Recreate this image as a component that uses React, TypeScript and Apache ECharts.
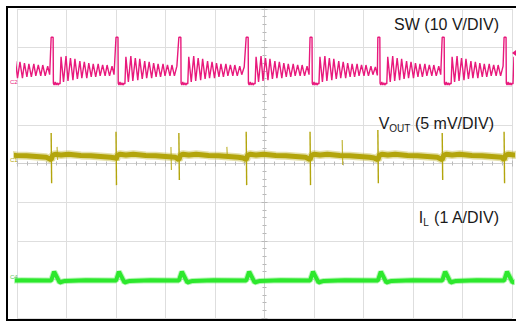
import React, { useEffect, useRef } from "react";
import * as echarts from "echarts";

// Screen units: divisions (10 horizontal x 8 vertical), centre = 0,0
// Switching events (SW pulse start) in divisions
const SW_EVENTS = [-5.61, -4.31, -3.0, -1.73, -0.37, 0.92, 2.29, 3.59, 4.84];

// One switching cycle of the SW node trace: [time offset, level]
const SW_CYCLE: [number, number][] = [
  [0.0, 3.27], [0.04, 3.27], [0.045, 2.08], [0.06, 2.03], [0.08, 2.11], [0.1, 2.03],
  [0.12, 2.09], [0.14, 2.03], [0.16, 2.08], [0.18, 2.06], [0.2, 2.76], [0.25, 2.11],
  [0.3, 2.78], [0.34, 2.14], [0.39, 2.73], [0.44, 2.16], [0.48, 2.71], [0.53, 2.19],
  [0.58, 2.65], [0.62, 2.21], [0.67, 2.63], [0.72, 2.21], [0.76, 2.6], [0.81, 2.24],
  [0.85, 2.58], [0.9, 2.24], [0.95, 2.58], [0.99, 2.27], [1.04, 2.55], [1.09, 2.27],
  [1.13, 2.55], [1.18, 2.27], [1.23, 2.52], [1.27, 2.3], [1.32, 2.5], [1.36, 2.28], [1.4, 2.48],
];

// VOUT ripple band over one cycle
const VOUT_CYCLE: [number, number][] = [
  [0.0, 0.1], [0.03, 0.21], [0.08, 0.24], [0.2, 0.22], [0.35, 0.24], [0.6, 0.21],
  [0.8, 0.2], [1.0, 0.18], [1.2, 0.16], [1.3, 0.14], [1.38, 0.13],
];
// VOUT switching spikes (one per real event)
const VOUT_SPIKE_TOP = [0.79, 0.82, 0.79, 0.82, 0.82, 0.87, 0.79, 0.82];
const VOUT_SPIKE_BOTTOM = [-0.51, -0.56, -0.43, -0.56, -0.56, -0.51, -0.43, -0.51];
// small secondary spikes
const VOUT_SMALL_X = [-4.19, -1.89, -0.76, 1.57];
const VOUT_SMALL_TOP = [0.43, 0.43, 0.43, 0.61];
const VOUT_SMALL_BOTTOM = [0.09, -0.17, 0.14, -0.04];

// Inductor current over one cycle
const IL_CYCLE: [number, number][] = [
  [0.0, -3.03], [0.06, -2.8], [0.17, -3.08], [0.28, -3.04], [0.7, -3.02], [1.38, -3.03],
];

const LABELS = {
  sw: "SW (10 V/DIV)",
  vout: "{v|V}{s|OUT}{v| (5 mV/DIV)}",
  il: "{v|I}{s|L}{v| (1 A/DIV)}",
};

const PINK = "#e8197c";
const OLIVE = "#b3a50c";
const GREEN = "#2de82d";

function buildTrace(events: number[], cycle: [number, number][]) {
  const pts: [number, number][] = [];
  events.forEach((t0, i) => {
    const tNext = i + 1 < events.length ? events[i + 1] : Infinity;
    cycle.forEach(([dt, v]) => {
      if (t0 + dt < tNext - 0.005) pts.push([t0 + dt, v]);
    });
  });
  return pts;
}

export default function App() {
  const ref = useRef<HTMLDivElement>(null);
  useEffect(() => {
    if (!ref.current) return;
    const chart = echarts.init(ref.current, null, { renderer: "svg" });
    const realEvents = SW_EVENTS.slice(1);
    const spikes = realEvents.map((t, i) => ({
      coords: [[t, VOUT_SPIKE_TOP[i]], [t + 0.01, VOUT_SPIKE_BOTTOM[i]]],
    }));
    const smallSpikes = VOUT_SMALL_X.map((t, i) => ({
      coords: [[t, VOUT_SMALL_TOP[i]], [t + 0.01, VOUT_SMALL_BOTTOM[i]]],
    }));
    const voutData = buildTrace(SW_EVENTS, VOUT_CYCLE);
    const ilData = buildTrace(SW_EVENTS, IL_CYCLE);
    const gridColor = "#dedede";
    const tickColor = "#b8b8b8";
    const xBase = {
      type: "value" as const,
      min: -5,
      max: 5,
      interval: 1,
      axisLabel: { show: false },
      axisLine: { show: true, onZero: true, lineStyle: { color: "#cfcfcf", width: 1 } },
      axisTick: { show: true, inside: true, length: 3, lineStyle: { color: tickColor } },
      minorTick: { show: true, splitNumber: 5, length: 2, lineStyle: { color: tickColor } },
    };
    const yBase = {
      type: "value" as const,
      min: -4,
      max: 4,
      interval: 1,
      axisLabel: { show: false },
      axisLine: { show: true, onZero: true, lineStyle: { color: "#cfcfcf", width: 1 } },
      axisTick: { show: true, inside: true, length: 3, lineStyle: { color: tickColor } },
      minorTick: { show: true, splitNumber: 5, length: 2, lineStyle: { color: tickColor } },
    };
    const font = "'Liberation Sans', Arial, sans-serif";
    const rich = {
      v: { fontSize: 16, fontFamily: font, fill: "#1a1a1a", lineHeight: 20 },
      s: { fontSize: 10, fontFamily: font, fill: "#1a1a1a", lineHeight: 20, verticalAlign: "bottom" },
    };
    const lineBase = { type: "line", showSymbol: false, symbol: "none", clip: true, silent: true };
    chart.setOption({
      animation: false,
      backgroundColor: "#ffffff",
      grid: { left: 17, top: 9, width: 495, height: 309 },
      xAxis: [
        { ...xBase, position: "bottom", splitLine: { show: true, lineStyle: { color: gridColor, width: 1 } } },
        { ...xBase, position: "top", splitLine: { show: false } },
      ],
      yAxis: [
        { ...yBase, position: "left", splitLine: { show: true, lineStyle: { color: gridColor, width: 1 } } },
        { ...yBase, position: "right", splitLine: { show: false } },
      ],
      series: [
        {
          ...lineBase,
          name: "SW",
          data: buildTrace(SW_EVENTS, SW_CYCLE),
          lineStyle: { color: PINK, width: 1.4 },
          z: 3,
        },
        {
          ...lineBase,
          name: "VOUT halo",
          data: voutData,
          lineStyle: { color: OLIVE, width: 8, opacity: 0.35 },
          z: 2,
        },
        {
          ...lineBase,
          name: "VOUT",
          data: voutData,
          lineStyle: { color: OLIVE, width: 5 },
          z: 3,
        },
        {
          type: "lines",
          coordinateSystem: "cartesian2d",
          data: spikes,
          lineStyle: { color: OLIVE, width: 1.4, opacity: 1 },
          silent: true,
          z: 4,
        },
        {
          type: "lines",
          coordinateSystem: "cartesian2d",
          data: smallSpikes,
          lineStyle: { color: OLIVE, width: 1.2, opacity: 0.8 },
          silent: true,
          z: 4,
        },
        {
          ...lineBase,
          name: "IL halo",
          data: ilData,
          lineStyle: { color: GREEN, width: 6, opacity: 0.35 },
          z: 2,
        },
        {
          ...lineBase,
          name: "IL",
          data: ilData,
          lineStyle: { color: GREEN, width: 4 },
          z: 3,
        },
      ],
      graphic: [
        { type: "rect", shape: { x: 6, y: 6, width: 2, height: 315 }, style: { fill: "#000" }, z: 10 },
        { type: "rect", shape: { x: 6, y: 6, width: 510, height: 2 }, style: { fill: "#000" }, z: 10 },
        { type: "rect", shape: { x: 6, y: 319, width: 510, height: 2 }, style: { fill: "#000" }, z: 10 },
        {
          type: "polygon",
          shape: { points: [[516, 50], [512, 53], [516, 56]] },
          style: { fill: PINK },
          z: 10,
        },
        { type: "text", x: 10, y: 82, style: { text: "C2", fontSize: 6, fill: PINK, fontFamily: font, verticalAlign: "middle" }, z: 10 },
        { type: "text", x: 10, y: 160, style: { text: "C1", fontSize: 6, fill: OLIVE, fontFamily: font, verticalAlign: "middle" }, z: 10 },
        { type: "text", x: 10, y: 277, style: { text: "C4", fontSize: 6, fill: "#59c659", fontFamily: font, verticalAlign: "middle" }, z: 10 },
        {
          type: "text",
          x: 499,
          y: 24,
          style: { text: LABELS.sw, fontSize: 16, fontFamily: font, fill: "#1a1a1a", align: "right", verticalAlign: "middle" },
          z: 10,
        },
        {
          type: "text",
          x: 494,
          y: 123,
          style: { text: LABELS.vout, rich, align: "right", verticalAlign: "middle" },
          z: 10,
        },
        {
          type: "text",
          x: 499,
          y: 217,
          style: { text: LABELS.il, rich, align: "right", verticalAlign: "middle" },
          z: 10,
        },
      ],
    });
    return () => chart.dispose();
  }, []);
  return (
    <div
      ref={ref}
      style={{ position: "fixed", left: 0, top: 0, width: 516, height: 322, background: "#fff" }}
    />
  );
}
